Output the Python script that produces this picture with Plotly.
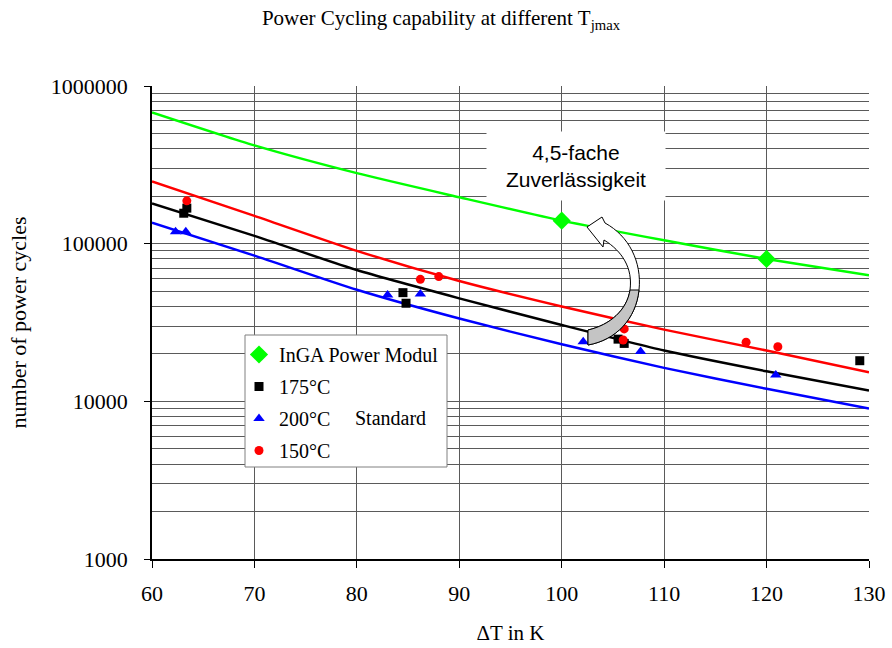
import plotly.graph_objects as go

# ---------------- data ----------------
dt_grid = [60, 70, 80, 90, 100, 110, 120, 130]
fit_inga = [680000, 420000, 280000, 197000, 140000, 105000, 80000, 63000]
fit_150 = [248000, 150000, 90000, 58000, 40000, 28500, 21000, 15300]
fit_175 = [180000, 112000, 68000, 45000, 30500, 21000, 15500, 11700]
fit_200 = [136000, 84000, 51000, 33500, 23000, 16300, 12000, 9000]

inga_x = [100, 120]
inga_y = [140000, 80000]
t175_x = [63.1, 63.4, 84.5, 84.8, 105.5, 106.1, 129.1]
t175_y = [156000, 168000, 48900, 41900, 24800, 23300, 18100]
t200_x = [62.3, 63.3, 83.0, 86.2, 102.1, 107.7, 120.9]
t200_y = [119000, 119000, 47300, 48000, 23900, 20700, 14700]
t150_x = [63.4, 86.2, 88.0, 106.1, 106.0, 118.0, 121.1]
t150_y = [187000, 59400, 61800, 28800, 24500, 23700, 22200]

x_ticks = [60, 70, 80, 90, 100, 110, 120, 130]
y_ticks = [1000, 10000, 100000, 1000000]
y_tick_labels = ["1000", "10000", "100000", "1000000"]
y_minor = [k * 10 ** d for d in range(3, 6) for k in range(2, 10)]

legend_names = ["InGA Power Modul", "175°C", "200°C", "150°C"]

# ---------------- layout geometry ----------------
W, H = 892, 648
L, R, T, B = 152, 23, 86, 89
PW, PH = W - L - R, H - T - B

def px(x):
    return (x - L) / PW

def py(y):
    return (H - B - y) / PH

SERIF = "Liberation Serif"
SANS = "Liberation Sans"

fig = go.Figure()

# fitted lines
for ys, col in [(fit_inga, "#00ff00"), (fit_150, "#ff0000"),
                (fit_175, "#000000"), (fit_200, "#0000ff")]:
    fig.add_trace(go.Scatter(x=dt_grid, y=ys, mode="lines",
                             line=dict(color=col, width=2.5, shape="spline", smoothing=0.6),
                             showlegend=False, hoverinfo="skip"))

# measured points
fig.add_trace(go.Scatter(x=inga_x, y=inga_y, mode="markers", name=legend_names[0],
                         legendgroup="a",
                         marker=dict(symbol="diamond", size=14, color="#00ff00")))
fig.add_trace(go.Scatter(x=t175_x, y=t175_y, mode="markers", name=legend_names[1],
                         legendgroup="b",
                         marker=dict(symbol="square", size=9, color="#000000")))
fig.add_trace(go.Scatter(x=t200_x, y=t200_y, mode="markers", name=legend_names[2],
                         legendgroup="c",
                         marker=dict(symbol="triangle-up", size=10, color="#0000ff")))
fig.add_trace(go.Scatter(x=t150_x, y=t150_y, mode="markers", name=legend_names[3],
                         legendgroup="d",
                         marker=dict(symbol="circle", size=9, color="#ff0000")))

def pth(points_cmds):
    out = []
    for cmd, pts in points_cmds:
        coords = " ".join(f"{px(x):.5f},{py(y):.5f}" for x, y in pts)
        out.append(f"{cmd} {coords}")
    return " ".join(out) + " Z"

arrow_full = pth([
    ("M", [(587, 227)]),
    ("L", [(602, 217)]),
    ("L", [(605, 223)]),
    ("C", [(629, 236), (642, 262), (639, 290)]),
    ("C", [(636, 319), (616, 340), (588, 345)]),
    ("L", [(588, 330)]),
    ("C", [(610, 325), (627, 310), (630, 290)]),
    ("C", [(633, 268), (622, 251), (604, 240)]),
    ("L", [(603, 247)]),
])
arrow_gray = pth([
    ("M", [(639, 290)]),
    ("C", [(636, 319), (616, 340), (588, 345)]),
    ("L", [(588, 330)]),
    ("C", [(610, 325), (627, 310), (630, 290)]),
])

shapes = [
    # legend frame
    dict(type="rect", xref="paper", yref="paper",
         x0=px(245), x1=px(447), y0=py(467), y1=py(335),
         fillcolor="white", line=dict(color="#808080", width=1), layer="above"),
    dict(type="path", xref="paper", yref="paper", path=arrow_full,
         fillcolor="white", line=dict(color="black", width=1), layer="above"),
    dict(type="path", xref="paper", yref="paper", path=arrow_gray,
         fillcolor="#c4c4c4", line=dict(color="black", width=1), layer="above"),
]

annotations = [
    dict(xref="paper", yref="paper", x=px(576), y=py(166), xanchor="center", yanchor="middle",
         text="4,5-fache<br>Zuverlässigkeit", showarrow=False, align="center",
         bgcolor="white", width=178, height=68, borderpad=0,
         font=dict(family=SANS, size=21, color="black")),
    dict(xref="paper", yref="paper", x=px(390), y=py(418), xanchor="center", yanchor="middle",
         text="Standard", showarrow=False,
         font=dict(family=SERIF, size=20, color="black")),
]

grid_col = "#5a5a5a"
fig.update_layout(
    width=W, height=H,
    margin=dict(l=L, r=R, t=T, b=B, autoexpand=False),
    paper_bgcolor="white", plot_bgcolor="white",
    font=dict(family=SERIF, size=21, color="black"),
    title=dict(text="Power Cycling capability at different T<sub>jmax</sub>",
               x=441 / W, xref="container", xanchor="center",
               y=1 - 18 / H, yref="container", yanchor="middle",
               font=dict(family=SERIF, size=21, color="black")),
    showlegend=True,
    legend=dict(x=px(239), y=py(335), xanchor="left", yanchor="top",
                xref="paper", yref="paper",
                bgcolor="rgba(0,0,0,0)", borderwidth=0,
                tracegroupgap=3, traceorder="grouped",
                font=dict(family=SERIF, size=20, color="black")),
    shapes=shapes,
    annotations=annotations,
    xaxis=dict(range=[60, 130], tickvals=x_ticks, ticks="outside", ticklen=7,
               tickcolor="black", showline=True, linecolor="black", linewidth=1.5,
               ticklabelstandoff=7,
               showgrid=True, gridcolor=grid_col, gridwidth=1, zeroline=False,
               tickfont=dict(family=SERIF, size=22),
               title=dict(text="ΔT in K", standoff=20, font=dict(family=SERIF, size=21))),
    yaxis=dict(type="log", range=[3, 6], tickvals=y_ticks, ticktext=y_tick_labels,
               ticks="outside", ticklen=6, tickcolor="black", ticklabelstandoff=12,
               showline=True, linecolor="black", linewidth=1.5,
               showgrid=True, gridcolor=grid_col, gridwidth=1, zeroline=False,
               minor=dict(tickvals=y_minor, showgrid=True, gridcolor=grid_col,
                          gridwidth=1, ticks=""),
               tickfont=dict(family=SERIF, size=22),
               title=dict(text="number of power cycles", standoff=18,
                          font=dict(family=SERIF, size=22))),
)

fig.write_html("out.html")
